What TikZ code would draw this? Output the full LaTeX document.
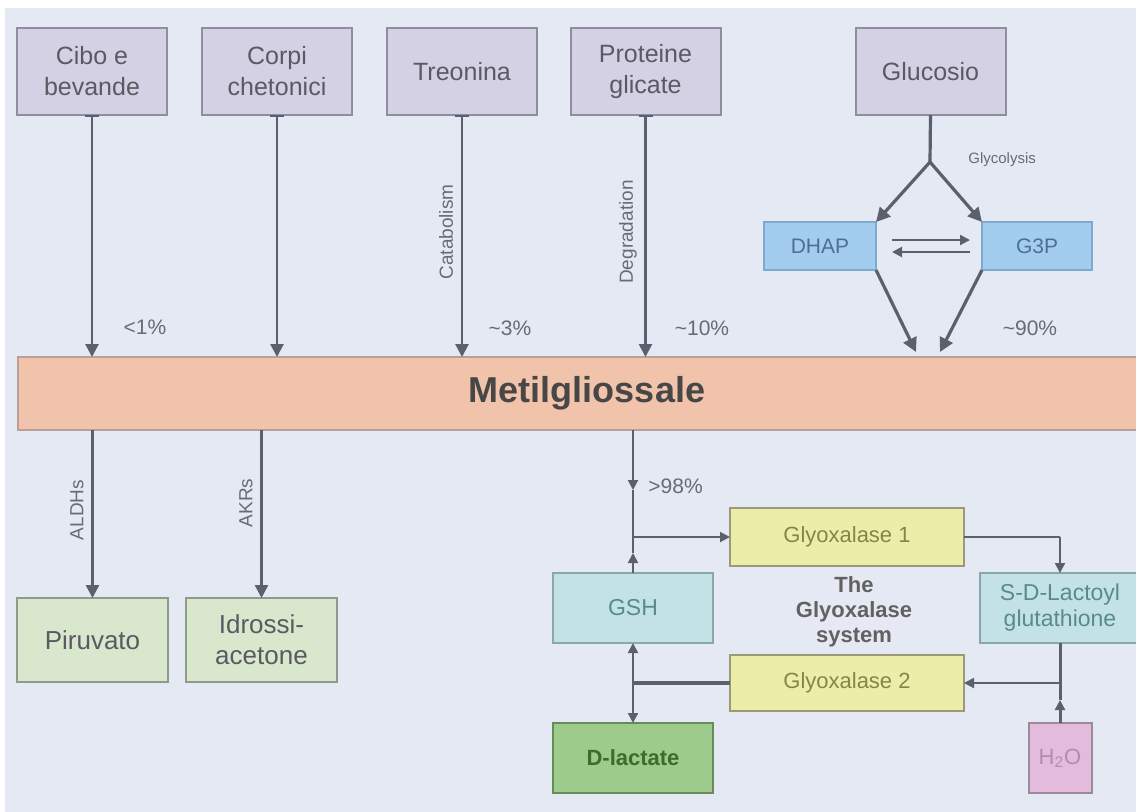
\documentclass[tikz,border=0pt]{standalone}
\usepackage{fontspec}
\setmainfont{Liberation Sans}
\usetikzlibrary{arrows.meta,calc}
\definecolor{panel}{HTML}{E5E9F3}
\definecolor{lav}{HTML}{D4D1E5}
\definecolor{lavb}{HTML}{8E8E9E}
\definecolor{txt}{HTML}{5A5A63}
\definecolor{arrc}{HTML}{5B5F6E}
\definecolor{blu}{HTML}{A3CDEE}
\definecolor{blub}{HTML}{7FA9CF}
\definecolor{blut}{HTML}{4F6F90}
\definecolor{sal}{HTML}{F1C3AB}
\definecolor{salb}{HTML}{B8A098}
\definecolor{lgr}{HTML}{D9E7CD}
\definecolor{lgrb}{HTML}{8E9A8A}
\definecolor{cya}{HTML}{C2E2E6}
\definecolor{cyab}{HTML}{8AA8AC}
\definecolor{cyat}{HTML}{5A8A8E}
\definecolor{yel}{HTML}{EDEDAA}
\definecolor{yelb}{HTML}{9A9A78}
\definecolor{yelt}{HTML}{85854A}
\definecolor{dgr}{HTML}{9DCB8B}
\definecolor{dgrb}{HTML}{6A8A5A}
\definecolor{dgrt}{HTML}{3E6B2E}
\definecolor{pnk}{HTML}{E3BCDD}
\definecolor{pnkb}{HTML}{9A8A9A}
\definecolor{pnkt}{HTML}{B48AB4}
\definecolor{lbl}{HTML}{6A6A74}
\tikzset{
  box/.style={draw, line width=1pt, inner sep=0pt, outer sep=0pt, align=center},
  topbox/.style={box, fill=lav, draw=lavb, text=txt, minimum width=75pt, minimum height=43.5pt,
     font=\fontsize{12.5}{15.5}\selectfont},
  bluebox/.style={box, fill=blu, draw=blub, text=blut, minimum height=24pt, font=\fontsize{10.5}{12}\selectfont},
  greenbox/.style={box, fill=lgr, draw=lgrb, text=txt, minimum width=75.5pt, minimum height=42pt,
     font=\fontsize{13}{15.5}\selectfont},
  cyanbox/.style={box, fill=cya, draw=cyab, text=cyat, minimum width=80pt, minimum height=35pt,
     font=\fontsize{11.5}{13}\selectfont},
  yelbox/.style={box, fill=yel, draw=yelb, text=yelt, minimum width=117pt, font=\fontsize{11}{13}\selectfont},
  arr/.style={draw=arrc, line width=1.3pt, -{Triangle[length=6.5pt,width=6.5pt]}},
  barr/.style={draw=arrc, line width=1.3pt, {Bar[width=7pt,line width=0.8pt]}-{Triangle[length=6.5pt,width=6.5pt]}},
  thickarr/.style={draw=arrc, line width=1.6pt, -{Triangle[length=7pt,width=7pt]}},
  thinarr/.style={draw=arrc, line width=1pt, -{Triangle[length=5pt,width=5pt]}},
  thinline/.style={draw=arrc, line width=1pt},
  pct/.style={text=lbl, font=\fontsize{10.5}{12}\selectfont, inner sep=0pt},
  rotlbl/.style={text=lbl, font=\fontsize{9.5}{10}\selectfont, inner sep=0pt, rotate=90},
}
\begin{document}
\begin{tikzpicture}[x=0.5pt,y=-0.5pt]
\useasboundingbox (0,0) rectangle (1136,811);
\fill[white] (0,0) rectangle (1136,811);
\fill[panel] (5,8) rectangle (1140,815);

% top boxes
\node[topbox] (cibo) at (92,71.5) {Cibo e\\bevande};
\node[topbox] (corpi) at (277,71.5) {Corpi\\chetonici};
\node[topbox] (treo) at (462,71.5) {Treonina};
\node[topbox] (prot) at (645.5,71.5) {Proteine\\glicate};
\node[topbox] (gluc) at (930.5,71.5) {Glucosio};

% Metilgliossale bar
\node[box, fill=sal, draw=salb, text=black!72, minimum width=569pt, minimum height=36.5pt,
  font=\fontsize{18}{20}\selectfont\bfseries] (metil) at (587,393.5) {Metilgliossale};

% DHAP / G3P
\node[bluebox, minimum width=56pt] (dhap) at (820,246) {DHAP};
\node[bluebox, minimum width=55pt] (g3p) at (1037,246) {G3P};
\coordinate (fork) at (930,162);
\node[text=lbl, font=\fontsize{7.5}{9}\selectfont, anchor=west, inner sep=0pt] (glyc) at (968,160) {Glycolysis};

% arrows into Metilgliossale
\draw[barr] (cibo.south) -- (cibo.south |- metil.north);
\draw[barr] (corpi.south) -- (corpi.south |- metil.north);
\draw[barr] (treo.south) -- (treo.south |- metil.north);
\draw[barr] (prot.south) -- (prot.south |- metil.north);

\node[pct] (p1) at (145,327) {<1\%};
\node[pct] (p3) at (510,328) {\textasciitilde3\%};
\node[pct] (p10) at (702,328) {\textasciitilde10\%};
\node[pct] (p90) at (1030,328) {\textasciitilde90\%};
\node[rotlbl] (catab) at (446,232) {Catabolism};
\node[rotlbl] (degr) at (628,232) {Degradation};

% glycolysis
\draw[draw=arrc, line width=1.6pt] (gluc.south) -- (fork);
\draw[thickarr] (fork) -- (dhap.north east);
\draw[thickarr] (fork) -- (g3p.north west);
\draw[thinarr] ($(dhap.east)+(16,-6)$) -- ($(g3p.west)+(-12,-6)$);
\draw[thinarr] ($(g3p.west)+(-12,6)$) -- ($(dhap.east)+(16,6)$);
\coordinate (m1) at (916,352);
\coordinate (m2) at (940,352);
\draw[thickarr] (dhap.south east) -- (m1);
\draw[thickarr] (g3p.south west) -- (m2);

% lower left
\node[greenbox] (piru) at (92.5,640) {Piruvato};
\node[greenbox] (idro) at (261.5,640) {Idrossi-\\acetone};
\draw[arr] (piru.north |- metil.south) -- (piru.north);
\draw[arr] (idro.north |- metil.south) -- (idro.north);
\node[rotlbl] (aldh) at (77,510) {ALDHs};
\node[rotlbl] (akr) at (246,503) {AKRs};

% glyoxalase system
\node[cyanbox] (gsh) at (633,608) {GSH};
\node[box, fill=dgr, draw=dgrb, text=dgrt, minimum width=80pt, minimum height=35pt,
  font=\fontsize{11}{13}\selectfont\bfseries] (dlac) at (633,758) {D-lactate};
\node[yelbox, minimum height=29pt] (gly1) at (847,537) {Glyoxalase 1};
\node[yelbox, minimum height=28pt] (gly2) at (847,683) {Glyoxalase 2};
\node[cyanbox] (sdl) at (1060,608) {S-D-Lactoyl\\glutathione};
\node[box, fill=pnk, draw=pnkb, text=pnkt, minimum width=31.5pt, minimum height=35pt,
  font=\fontsize{11}{13}\selectfont] (h2o) at (1060,758) {H\textsubscript{2}O};
\node[text=black!62, font=\fontsize{11}{12.5}\selectfont\bfseries, align=center, inner sep=0pt] (sys) at (854,612) {The\\Glyoxalase\\system};

\coordinate (j1) at (633,537);
\coordinate (j2) at (633,683);
\coordinate (j3) at (1060,683);
\coordinate (j4) at (1060,537);
\coordinate (d1) at (633,490);
\coordinate (u1) at (633,553);
\coordinate (u2) at (1060,700);

\draw[thinarr] (gsh.north |- metil.south) -- (d1);
\draw[thinline] (d1) -- (j1);
\node[pct, anchor=west] (p98) at (648,486) {>98\%};
\draw[thinarr] (j1) -- (gly1.west);
\draw[thinarr] (gsh.north) -- (u1);
\draw[thinline] (u1) -- (j1);
\draw[thinline] (gly1.east) -- (j4);
\draw[thinarr] (j4) -- (sdl.north);
\draw[draw=arrc, line width=1.5pt] (sdl.south) -- (j3);
\draw[draw=arrc, line width=1.5pt, -{Triangle[length=5pt,width=5pt]}] (h2o.north) -- (u2);
\draw[draw=arrc, line width=1.5pt] (u2) -- (j3);
\draw[thinarr] (j3) -- (gly2.east);
\draw[draw=arrc, line width=2.4pt] (gly2.west) -- (j2);
\draw[thinarr] (j2) -- (gsh.south);
\draw[thinarr] (j2) -- (dlac.north);
\end{tikzpicture}
\end{document}
